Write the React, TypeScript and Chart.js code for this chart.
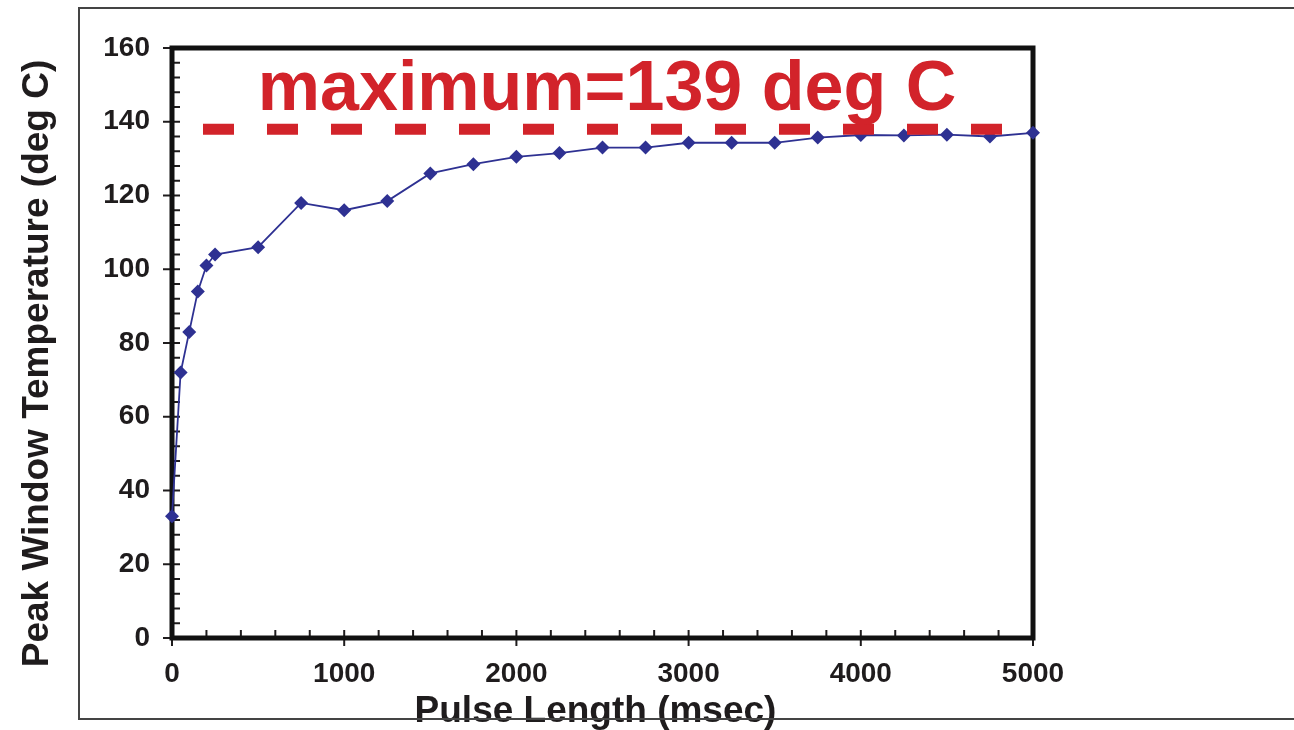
import React, { useEffect, useRef } from 'react';
import { Chart, registerables } from 'chart.js';

Chart.register(...registerables);

// ---- data ----
const pulseLengthMs = [0, 50, 100, 150, 200, 250, 500, 750, 1000, 1250, 1500, 1750, 2000, 2250, 2500, 2750, 3000, 3250, 3500, 3750, 4000, 4250, 4500, 4750, 5000];
const peakTempC = [33, 72, 83, 94, 101, 104, 106, 118, 116, 118.5, 126, 128.5, 130.5, 131.5, 133, 133, 134.3, 134.3, 134.3, 135.7, 136.4, 136.3, 136.5, 136, 137];
const maxLineXs = [180, 4820];
const maxLineTemps = [138, 138];
const maxLabel = 'maximum=139 deg C';
const xAxisTitle = 'Pulse Length (msec)';
const yAxisTitle = 'Peak Window Temperature (deg C)';
const xRange = [0, 5000];
const yRange = [0, 160];
const xMajorStep = 1000;
const xMinorStep = 200;
const yMajorStep = 20;
const yMinorStep = 4;

const FONT = "'Liberation Sans', Arial, Helvetica, sans-serif";
const BLUE = '#2e3192';
const RED = '#d2232a';
const INK = '#1f1c1d';

export default function App() {
  const ref = useRef<HTMLCanvasElement>(null);

  useEffect(() => {
    const canvas = ref.current;
    if (!canvas) return;

    const decor = {
      id: 'decor',
      beforeDraw(chart: any) {
        const { ctx } = chart;
        ctx.save();
        ctx.fillStyle = '#ffffff';
        ctx.fillRect(0, 0, chart.width, chart.height);
        ctx.restore();
      },
      beforeDatasetsDraw(chart: any) {
        const { ctx, chartArea: a, scales } = chart;
        const xs = scales.x;
        const ys = scales.y;
        ctx.save();
        ctx.strokeStyle = INK;
        ctx.lineWidth = 2;
        for (let v = yRange[0]; v <= yRange[1]; v += yMinorStep) {
          const py = ys.getPixelForValue(v);
          const major = v % yMajorStep === 0;
          ctx.beginPath();
          ctx.moveTo(a.left - (major ? 9 : 0), py);
          ctx.lineTo(a.left + 8, py);
          ctx.stroke();
        }
        for (let v = xRange[0]; v <= xRange[1]; v += xMinorStep) {
          const px = xs.getPixelForValue(v);
          const major = v % xMajorStep === 0;
          ctx.beginPath();
          ctx.moveTo(px, a.bottom + (major ? 8 : 0));
          ctx.lineTo(px, a.bottom - 8);
          ctx.stroke();
        }
        ctx.lineWidth = 5;
        ctx.strokeStyle = '#111111';
        ctx.strokeRect(a.left, a.top, a.right - a.left, a.bottom - a.top);
        ctx.restore();
      },
      afterDraw(chart: any) {
        const { ctx, scales } = chart;
        const xs = scales.x;
        ctx.save();
        // annotation text
        ctx.fillStyle = RED;
        ctx.font = `bold 70px ${FONT}`;
        ctx.textAlign = 'center';
        ctx.textBaseline = 'alphabetic';
        ctx.fillText(maxLabel, 607, 110);
        // x title
        ctx.fillStyle = INK;
        ctx.font = `bold 37px ${FONT}`;
        ctx.fillText(xAxisTitle, (xs.left + xs.right) / 2 - 7, 722);
        // y title
        ctx.save();
        ctx.translate(48, 363.5);
        ctx.rotate(-Math.PI / 2);
        ctx.fillText(yAxisTitle, 0, 0);
        ctx.restore();
        // outer frame
        ctx.strokeStyle = '#444444';
        ctx.lineWidth = 2;
        ctx.beginPath();
        ctx.moveTo(chart.width, 8);
        ctx.lineTo(79, 8);
        ctx.lineTo(79, 719);
        ctx.lineTo(chart.width, 719);
        ctx.stroke();
        ctx.restore();
      },
    };

    const chart = new Chart(canvas, {
      type: 'line',
      data: {
        datasets: [
          {
            label: maxLabel,
            data: maxLineXs.map((x, i) => ({ x, y: maxLineTemps[i] })),
            borderColor: RED,
            borderWidth: 11,
            borderDash: [31, 33],
            borderCapStyle: 'butt',
            pointRadius: 0,
            fill: false,
            clip: false,
          },
          {
            label: 'Peak Window Temperature',
            data: pulseLengthMs.map((x, i) => ({ x, y: peakTempC[i] })),
            borderColor: BLUE,
            borderWidth: 1.8,
            pointStyle: 'rectRot',
            pointRadius: 7,
            pointBackgroundColor: BLUE,
            pointBorderColor: BLUE,
            pointBorderWidth: 0,
            tension: 0,
            fill: false,
            clip: false,
          },
        ],
      },
      options: {
        responsive: false,
        animation: false,
        devicePixelRatio: 1,
        layout: { padding: { left: 0, top: 48, right: 261, bottom: 0 } },
        plugins: {
          legend: { display: false },
          tooltip: { enabled: false },
        },
        scales: {
          x: {
            type: 'linear',
            min: xRange[0],
            max: xRange[1],
            grid: { display: false, drawTicks: false },
            border: { display: false },
            ticks: {
              stepSize: xMajorStep,
              maxRotation: 0,
              autoSkip: false,
              padding: 19,
              color: INK,
              font: { family: FONT, weight: 'bold', size: 28 },
              callback: (v: any) => String(v),
            },
            afterFit(scale: any) {
              scale.height = 92;
            },
          },
          y: {
            type: 'linear',
            min: yRange[0],
            max: yRange[1],
            grid: { display: false, drawTicks: false },
            border: { display: false },
            ticks: {
              stepSize: yMajorStep,
              autoSkip: false,
              padding: 22,
              color: INK,
              font: { family: FONT, weight: 'bold', size: 28 },
              callback: (v: any) => String(v),
            },
            afterFit(scale: any) {
              scale.width = 172;
            },
          },
        },
      },
      plugins: [decor],
    } as any);

    return () => chart.destroy();
  }, []);

  return (
    <div style={{ position: 'fixed', left: 0, top: 0, width: 1294, height: 730, background: '#fff' }}>
      <canvas ref={ref} width={1294} height={730} style={{ display: 'block' }} />
    </div>
  );
}
